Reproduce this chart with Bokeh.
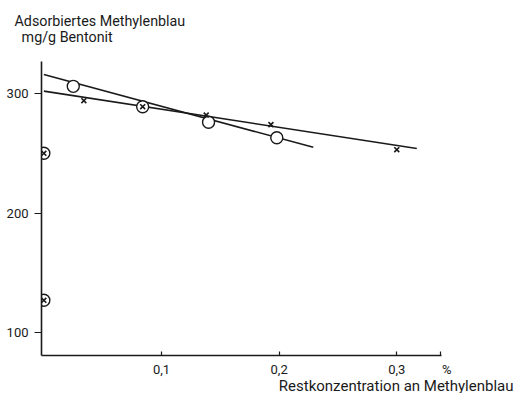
from bokeh.plotting import figure
from bokeh.models import Range1d, FixedTicker, Title
from bokeh.embed import file_html
from bokeh.resources import INLINE

# data
circ_x = [0.0, 0.0, 0.025, 0.084, 0.140, 0.198]
circ_y = [250, 127, 306, 289, 276, 263]
cross_x = [0.0, 0.0, 0.034, 0.084, 0.138, 0.193, 0.300]
cross_y = [250, 127, 294, 289, 282, 274, 253]
circ_line_x = [0.0, 0.229]
circ_line_y = [316, 255]
cross_line_x = [0.0, 0.317]
cross_line_y = [302, 254]
x_ticks = [0.1, 0.2, 0.3]
x_tick_labels = ["0,1", "0,2", "0,3"]
unit_tick = 0.337
unit_label = "\u00a0\u00a0\u00a0\u00a0%"
y_ticks = [100, 200, 300]
y_title = "Adsorbiertes Methylenblau\n\u00a0\u00a0mg/g Bentonit\n"
x_title = "Restkonzentration an Methylenblau"

FONT = "Roboto"
INK = "#1a1a1a"

p = figure(frame_width=400, frame_height=294, output_backend="svg", toolbar_location=None,
           x_range=Range1d(-0.002, 0.338), y_range=Range1d(80.8, 326.8),
           min_border_left=41, min_border_right=74, min_border_top=61, min_border_bottom=36)
p.outline_line_color = None
p.xgrid.visible = False
p.ygrid.visible = False
p.background_fill_color = "white"
p.border_fill_color = "white"

for ax in (p.xaxis[0], p.yaxis[0]):
    ax.axis_line_color = INK
    ax.axis_line_width = 1.6
    ax.major_tick_line_color = INK
    ax.major_tick_line_width = 1.2
    ax.minor_tick_line_color = None
    ax.major_label_text_font = FONT
    ax.major_label_text_font_size = "13px"
    ax.major_label_text_color = INK

p.xaxis.ticker = FixedTicker(ticks=x_ticks + [unit_tick])
overrides = {t: l for t, l in zip(x_ticks, x_tick_labels)}
overrides[unit_tick] = unit_label
p.xaxis.major_label_overrides = overrides
p.xaxis.major_tick_in = 4
p.xaxis.major_tick_out = 0
p.xaxis.major_label_standoff = 6

p.yaxis.ticker = FixedTicker(ticks=y_ticks)
p.yaxis.major_tick_in = 0
p.yaxis.major_tick_out = 7
p.yaxis.major_label_standoff = 6

p.line(circ_line_x, circ_line_y, line_color=INK, line_width=1.6)
p.line(cross_line_x, cross_line_y, line_color=INK, line_width=1.6)
p.scatter(circ_x, circ_y, marker="circle", size=12, fill_color="white",
          line_color=INK, line_width=1.4)
p.scatter(cross_x, cross_y, marker="x", size=7, line_color=INK, line_width=1.6)

p.add_layout(Title(text=y_title, align="left", offset=-27, standoff=0,
                   text_font=FONT, text_font_size="14.3px", text_color=INK,
                   text_line_height=1.02, text_font_style="normal"), "above")
p.add_layout(Title(text=x_title, align="right", offset=-72, standoff=-6,
                   vertical_align="top", text_font=FONT, text_font_size="15px",
                   text_color=INK, text_font_style="normal"), "below")

open("out.html", "w").write(file_html(p, INLINE))
